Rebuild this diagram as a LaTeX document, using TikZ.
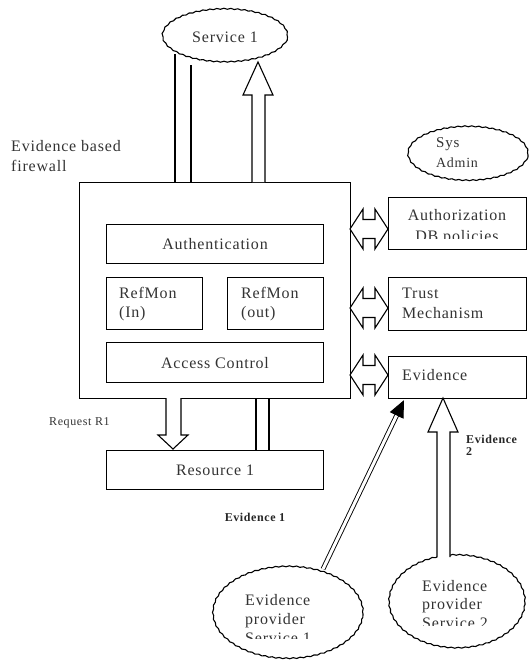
\documentclass[tikz,border=0pt]{standalone}
\usepackage{fontspec}
\setmainfont{Liberation Serif}[LetterSpace=5]
\usetikzlibrary{decorations.pathmorphing,arrows.meta,calc,shapes.geometric}
\begin{document}
\begin{tikzpicture}[x=1pt,y=-1pt,
  box/.style={draw,line width=1.1pt,inner sep=0pt,anchor=north west},
  cloudy/.style={ellipse,draw,line width=1.1pt,inner sep=0pt,decorate,decoration={snake,amplitude=0.5pt,segment length=7pt}},
  lbl/.style={font=\fontsize{16}{18}\selectfont,text=black!80,inner sep=0pt},
  small/.style={font=\fontsize{12}{13}\selectfont,text=black!80,inner sep=0pt},
  smallb/.style={font=\fontsize{12}{13}\selectfont\bfseries,text=black!85,inner sep=0pt},
  blk/.style={draw,line width=1.1pt,fill=white,line join=miter},
  ln/.style={line width=1.1pt},
]
\useasboundingbox (0,0) rectangle (530,662);

% clouds / ellipses
\node[cloudy,minimum width=125pt,minimum height=53pt] (svc) at (225,37) {};
\node[lbl] at (225,37) {Service 1};
\node[cloudy,minimum width=120pt,minimum height=54pt] (sys) at (468,155) {};
\node[lbl,font=\fontsize{15}{16}\selectfont,anchor=west] at (436,144) {Sys};
\node[lbl,font=\fontsize{14}{16}\selectfont,anchor=west] at (436,163) {Admin};
\node[cloudy,minimum width=150pt,minimum height=92pt] (ep1) at (288,614) {};
\node[cloudy,minimum width=136pt,minimum height=93pt] (ep2) at (457,603) {};

% boxes
\node[box,minimum width=271pt,minimum height=216pt] (fw) at (79,182) {};
\node[box,minimum width=217pt,minimum height=39pt] (auth) at (106,224) {};
\node[box,minimum width=96pt,minimum height=52pt] (rin) at (106,277) {};
\node[box,minimum width=96pt,minimum height=52pt] (rout) at (227,277) {};
\node[box,minimum width=217pt,minimum height=40pt] (ac) at (106,342) {};
\node[box,minimum width=138pt,minimum height=52pt] (adb) at (388,197) {};
\node[box,minimum width=138pt,minimum height=53pt] (tm) at (388,277) {};
\node[box,minimum width=138pt,minimum height=42pt] (ev) at (388,356) {};
\node[box,minimum width=217pt,minimum height=39pt] (res) at (106,450) {};

% labels
\node[lbl,align=left,anchor=west] at (11,146) {Evidence based};
\node[lbl,align=left,anchor=west] at (11,166) {firewall};
\node[lbl] at (auth.center) {Authentication};
\node[lbl,align=left,anchor=west] at (119,293) {RefMon};
\node[lbl,align=left,anchor=west] at (119,314) {(In)};
\node[lbl,align=left,anchor=west] at (241,293) {RefMon};
\node[lbl,align=left,anchor=west] at (241,314) {(out)};
\node[lbl] at (ac.center) {Access Control};
\begin{scope}
  \clip (388,197) rectangle (526,238);
  \node[lbl,anchor=base] at (457,220) {Authorization};
  \node[lbl,anchor=base] at (457,241) {DB policies};
\end{scope}
\node[lbl,anchor=west] at (402,293) {Trust};
\node[lbl,anchor=west] at (402,313) {Mechanism};
\node[lbl,anchor=west] at (402,375) {Evidence};
\node[lbl] at (res.center) {Resource 1};
\node[small,anchor=west] at (49,423) {Request R1};
\node[smallb] at (255,517) {Evidence 1};
\node[smallb,anchor=west] at (466,439) {Evidence};
\node[smallb,anchor=west] at (466,452) {2};
\begin{scope}
  \clip (200,560) rectangle (380,638);
  \node[lbl,anchor=base west] at (245,605) {Evidence};
  \node[lbl,anchor=base west] at (245,624) {provider};
  \node[lbl,anchor=base west] at (245,643) {Service 1};
\end{scope}
\begin{scope}
  \clip (380,550) rectangle (530,625);
  \node[lbl,anchor=base west] at (422,591) {Evidence};
  \node[lbl,anchor=base west] at (422,609) {provider};
  \node[lbl,anchor=base west] at (422,628) {Service 2};
\end{scope}

% Service 1 connectors
\coordinate (sa1) at (175,54);
\coordinate (sa2) at (191,65);
\draw[ln] (sa1) -- (sa1 |- fw.north);
\draw[ln] (sa2) -- (sa2 |- fw.north);
\draw[blk,fill=white] (252,182) -- (252,95) -- (243,95) -- (258,62) -- (273,95) -- (265,95) -- (265,182);

% horizontal double arrows
\foreach \c in {229,308,375}{
  \draw[blk] (350,\c) -- (363,\c-20) -- (363,\c-9.5) -- (375,\c-9.5) -- (375,\c-20)
    -- (388,\c) -- (375,\c+20) -- (375,\c+9.5) -- (363,\c+9.5) -- (363,\c+20) -- cycle;
}

% Request arrow and lines to resource
\draw[blk] (166,398) -- (166,435) -- (158,435) -- (173,449) -- (188,435) -- (181,435) -- (181,398);
\coordinate (rl1) at (256,398);
\coordinate (rl2) at (269,398);
\draw[ln] (rl1) -- (rl1 |- res.north);
\draw[ln] (rl2) -- (rl2 |- res.north);

% Evidence 2 arrow
\draw[blk] (437,557) -- (437,432) -- (428,432) -- (443,398) -- (458,432) -- (450,432) -- (450,557);

% Evidence 1 diagonal arrow
\coordinate (d1) at (323,569);
\coordinate (d2) at ($(ev.south west)+(16,1)$);
\draw[double,double distance=3pt,line width=0.9pt,-{Triangle[length=17pt,width=15pt]}] (d1) -- (d2);
\end{tikzpicture}
\end{document}
